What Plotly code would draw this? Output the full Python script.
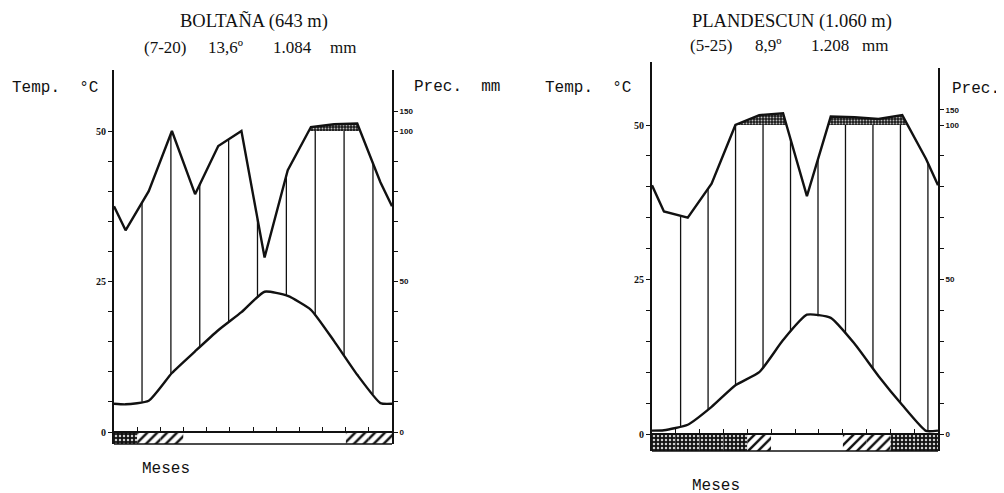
import numpy as np
import plotly.graph_objects as go

W, H = 1004, 493
OFF = 8  # page body margin of the written html

# ---------------- data ----------------
month_names = ["E", "F", "M", "A", "M", "J", "J", "A", "S", "O", "N", "D"]

bol_title = "BOLTAÑA (643 m)"
bol_info = ["(7-20)", "13,6º", "1.084", "mm"]
bol_temp = [4.6, 5.2, 9.8, 13.4, 16.9, 19.9, 23.3, 22.6, 20.3, 15.1, 9.5, 4.8]      # ºC
bol_prec = [67, 80, 100, 79, 95, 100, 58, 87, 110, 117, 119, 83]                    # mm
bol_frost = ["seg", "prob", "prob", "none", "none", "none", "none", "none",
             "none", "none", "prob", "prob"]

pla_title = "PLANDESCUN (1.060 m)"
pla_info = ["(5-25)", "8,9º", "1.208", "mm"]
pla_temp = [0.6, 1.5, 4.4, 7.9, 10.0, 15.2, 19.3, 18.8, 14.6, 9.4, 4.7, 0.5]
pla_prec = [72, 70, 81, 100, 133, 139, 77, 128, 126, 120, 133, 89]
pla_frost = ["seg", "seg", "seg", "seg", "prob", "none", "none", "none",
             "prob", "prob", "seg", "seg"]

temp_tick_vals = [0, 5, 10, 15, 20, 25, 30, 35, 40, 45, 50]
temp_tick_text = ["0", "", "", "", "", "25", "", "", "", "", "50"]
prec_tick_vals = [0, 10, 20, 30, 40, 50, 60, 70, 80, 90, 100, 150]
prec_tick_text = ["0", "", "", "", "", "50", "", "", "", "", "100", "150"]

x_label = "Meses"
t_label = "Temp.\u00a0\u00a0°C"
p_label = "Prec.\u00a0\u00a0mm"


# ---------------- helpers ----------------
def px(x):
    return (x - OFF) / W


def py(y):
    return 1 - (y - OFF) / H


def to_units(p, k):
    p = np.asarray(p, dtype=float)
    return np.where(p <= 100, p / 2.0, 50 + (p - 100) * k)


def closed_curve(vals):
    vals = list(vals)
    edge = (vals[0] + vals[-1]) / 2.0
    xs = [0.0] + [i + 0.5 for i in range(12)] + [12.0]
    ys = [edge] + vals + [edge]
    return np.array(xs), np.array(ys, dtype=float)


def perhumid_polygon(xs, ys, level=50.0):
    pts = [(xs[0], max(ys[0], level))]
    for i in range(len(xs) - 1):
        x0, y0, x1, y1 = xs[i], ys[i], xs[i + 1], ys[i + 1]
        if (y0 - level) * (y1 - level) < 0:
            xc = x0 + (level - y0) * (x1 - x0) / (y1 - y0)
            pts.append((xc, level))
        pts.append((x1, max(y1, level)))
    px_ = [p[0] for p in pts]
    py_ = [p[1] for p in pts]
    return px_ + px_[::-1], py_ + [level] * len(px_)


fig = go.Figure()


def add_chart(xa, ya, temp, prec, frost, k, bar_bottom, h_start, h_step):
    xs, t_curve = closed_curve(temp)
    _, p_curve = closed_curve(to_units(prec, k))

    # frost bar
    styles = {
        "seg": dict(color="#111", pattern=dict(shape=".", fgcolor="#cfcfcf", bgcolor="#111",
                                               size=4, solidity=0.3)),
        "prob": dict(color="white", pattern=dict(shape="/", fgcolor="#111", bgcolor="white",
                                                 size=7, solidity=0.35)),
        "none": dict(color="white"),
    }
    for cat, st in styles.items():
        xm = [i + 0.5 for i, f in enumerate(frost) if f == cat]
        if not xm:
            continue
        fig.add_trace(go.Bar(x=xm, y=[bar_bottom] * len(xm), base=0, width=1.0,
                             marker=dict(line=dict(width=0), **st),
                             xaxis=xa, yaxis=ya, showlegend=False, hoverinfo="skip"))

    # humid-period vertical hatching
    hx, hy = [], []
    xh = h_start
    while xh < 12:
        t = float(np.interp(xh, xs, t_curve))
        p = float(np.interp(xh, xs, p_curve))
        if p > t:
            hx += [xh, xh, None]
            hy += [t, min(p, 50.0), None]
        xh += h_step
    fig.add_trace(go.Scatter(x=hx, y=hy, mode="lines", line=dict(color="#111", width=1.3),
                             xaxis=xa, yaxis=ya, showlegend=False, hoverinfo="skip"))

    # perhumid (>100 mm) fill
    fx, fy = perhumid_polygon(xs, p_curve)
    fig.add_trace(go.Scatter(x=fx, y=fy, mode="lines", fill="toself", line=dict(width=0),
                             fillcolor="#222",
                             fillpattern=dict(shape=".", fgcolor="#bbbbbb", bgcolor="#1a1a1a",
                                              size=3, solidity=0.3),
                             xaxis=xa, yaxis=ya, showlegend=False, hoverinfo="skip"))

    # precipitation curve
    fig.add_trace(go.Scatter(x=xs, y=p_curve, mode="lines", line=dict(color="#111", width=2.4),
                             xaxis=xa, yaxis=ya, showlegend=False, hoverinfo="skip"))
    # temperature curve
    fig.add_trace(go.Scatter(x=xs, y=t_curve, mode="lines",
                             line=dict(color="#111", width=2.4, shape="spline", smoothing=0.5),
                             xaxis=xa, yaxis=ya, showlegend=False, hoverinfo="skip"))


K_BOL = 0.066
K_PLA = 0.0486

# Boltaña geometry (pixels)
bL, bR, bTop, bZero, bBot = 114, 392, 70, 432, 444
bScale = 6.02
b_range = [(bZero - bBot) / bScale, (bZero - bTop) / bScale]

# Plandescun geometry
pL, pR, pTop, pTopR, pZero, pBot = 652, 938, 62, 68, 434, 451
pScale = 6.18
p_range = [(pZero - pBot) / pScale, (pZero - pTop) / pScale]
p_range_r = [(pZero - pBot) / pScale, (pZero - pTopR) / pScale]

add_chart("x", "y", bol_temp, bol_prec, bol_frost, K_BOL, b_range[0], 1.21, 1.246)
add_chart("x2", "y2", pla_temp, pla_prec, pla_frost, K_PLA, p_range[0], 1.2, 1.153)

# invisible traces to carry the right-hand axes
fig.add_trace(go.Scatter(x=[6], y=[0], mode="markers", marker=dict(opacity=0),
                         xaxis="x", yaxis="y3", showlegend=False, hoverinfo="skip"))
fig.add_trace(go.Scatter(x=[6], y=[0], mode="markers", marker=dict(opacity=0),
                         xaxis="x2", yaxis="y4", showlegend=False, hoverinfo="skip"))

tick_font_t = dict(family="Liberation Serif", size=10, color="#111111", weight="bold")
tick_font_p = dict(family="Liberation Sans", size=8, color="#111111", weight="bold")

common_x = dict(range=[0, 12], showline=True, linecolor="#111", linewidth=1.5,
                ticks="inside", ticklen=4, tickwidth=1.2, tickcolor="#111",
                tickvals=list(range(13)), showticklabels=False, showgrid=False,
                zeroline=False, fixedrange=True)
common_y = dict(showline=True, linecolor="#111", linewidth=2, ticks="outside", ticklen=4,
                tickwidth=1.2, tickcolor="#111", showgrid=False, zeroline=False,
                fixedrange=True)

fig.update_layout(
    template="none",
    width=W, height=H, margin=dict(l=0, r=0, t=0, b=0),
    paper_bgcolor="white", plot_bgcolor="rgba(0,0,0,0)",
    barmode="overlay", showlegend=False,
    xaxis=dict(domain=[px(bL), px(bR)], anchor="free", position=py(bZero), **common_x),
    yaxis=dict(domain=[py(bBot), py(bTop)], range=b_range, anchor="x",
               tickvals=temp_tick_vals, ticktext=temp_tick_text, tickfont=tick_font_t,
               **common_y),
    yaxis3=dict(overlaying="y", side="right", anchor="x", range=b_range,
                tickvals=list(to_units(prec_tick_vals, K_BOL)), ticktext=prec_tick_text,
                tickfont=tick_font_p, **common_y),
    xaxis2=dict(domain=[px(pL), px(pR)], anchor="free", position=py(pZero), **common_x),
    yaxis2=dict(domain=[py(pBot), py(pTop)], range=p_range, anchor="x2",
                tickvals=temp_tick_vals, ticktext=temp_tick_text, tickfont=tick_font_t,
                **common_y),
    yaxis4=dict(domain=[py(pBot), py(pTopR)], range=p_range_r, anchor="x2", side="right",
                tickvals=list(to_units(prec_tick_vals, K_PLA)), ticktext=prec_tick_text,
                tickfont=tick_font_p, **common_y),
    shapes=[
        dict(type="line", xref="x domain", yref="y domain", x0=0, x1=1, y0=0, y1=0,
             line=dict(color="#111", width=1.5)),
        dict(type="line", xref="x2 domain", yref="y2 domain", x0=0, x1=1, y0=0, y1=0,
             line=dict(color="#111", width=1.5)),
    ],
)

serif = dict(family="Liberation Serif", size=18.5, color="#111")
serif_s = dict(family="Liberation Serif", size=17, color="#111")
mono = dict(family="Liberation Mono", size=16, color="#111")

ann = []


def text(t, x, y, font, xanchor="center"):
    ann.append(dict(text=t, x=px(x), y=py(y), xref="paper", yref="paper", showarrow=False,
                    xanchor=xanchor, yanchor="middle", font=font))


text(bol_title, 254, 21, serif)
for t, x in zip(bol_info, [165, 225, 292, 343]):
    text(t, x, 47, serif_s)
text(pla_title, 792, 21, serif)
for t, x in zip(pla_info, [711, 768, 830, 875]):
    text(t, x, 46, serif_s)

text(t_label, 10, 88, mono, "left")
text(p_label, 412, 87, mono, "left")
text(t_label, 543, 88, mono, "left")
text(p_label, 950, 89, mono, "left")
text(x_label, 166, 469, mono)
text(x_label, 716, 486, mono)

fig.update_layout(annotations=ann)
fig.write_html("out.html")
